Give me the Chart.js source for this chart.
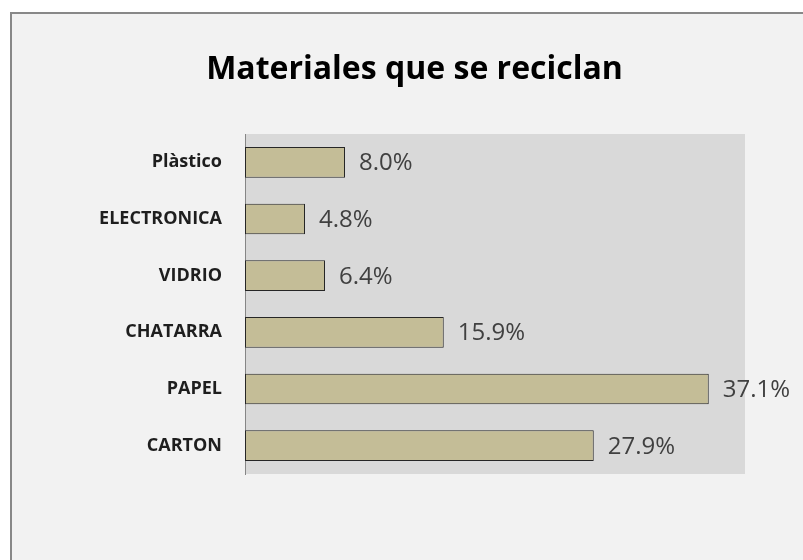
<!DOCTYPE html>
<html>
<head>
<meta charset="utf-8">
<script src="https://cdn.jsdelivr.net/npm/chart.js@4.4.1/dist/chart.umd.min.js"></script>
<style>
  html, body { margin: 0; padding: 0; background: #fff; }
  #frame {
    position: absolute; left: 10px; top: 12px; width: 900px; height: 700px;
    background: #f2f2f2; border-left: 2px solid #888; border-top: 2px solid #888;
  }
  #wrap { position: absolute; left: 0; top: 0; width: 803px; height: 560px; }
</style>
</head>
<body>
<div id="frame"></div>
<div id="wrap"><canvas id="materialsChart"></canvas></div>
<script>
// data, top to bottom
const categories = ['Plàstico', 'ELECTRONICA', 'VIDRIO', 'CHATARRA', 'PAPEL', 'CARTON'];
const percentages = [8.0, 4.8, 6.4, 15.9, 37.1, 27.9];
const titleText = 'Materiales que se reciclan';

// gray plot area behind the bars
const plotBackground = {
  id: 'plotBackground',
  beforeDraw(chart) {
    const { ctx, chartArea: a } = chart;
    ctx.save();
    ctx.fillStyle = '#d9d9d9';
    ctx.fillRect(a.left, a.top, a.right - a.left, a.bottom - a.top);
    ctx.restore();
  }
};

// value labels to the right of each bar
const valueLabels = {
  id: 'valueLabels',
  afterDatasetsDraw(chart) {
    const ctx = chart.ctx;
    const meta = chart.getDatasetMeta(0);
    ctx.save();
    ctx.font = '24px "Open Sans"';
    ctx.fillStyle = '#404040';
    ctx.textBaseline = 'middle';
    ctx.textAlign = 'left';
    meta.data.forEach((bar, i) => {
      ctx.fillText(percentages[i].toFixed(1) + '%', bar.x + 14, bar.y + 1);
    });
    ctx.restore();
  }
};

function createChart() {
  const ctx = document.getElementById('materialsChart').getContext('2d');
  new Chart(ctx, {
    type: 'bar',
    data: {
      labels: categories,
      datasets: [{
        data: percentages,
        backgroundColor: '#c4bd97',
        borderColor: '#262626',
        borderWidth: 1,
        borderSkipped: false,
        barPercentage: 0.54,
        categoryPercentage: 1
      }]
    },
    options: {
      indexAxis: 'y',
      responsive: true,
      maintainAspectRatio: false,
      animation: false,
      layout: { padding: { top: 0, left: 84, right: 58, bottom: 86 } },
      plugins: {
        legend: { display: false },
        tooltip: { enabled: false },
        title: {
          display: true,
          text: titleText,
          color: '#000',
          font: { family: 'Open Sans', size: 32, weight: 'bold', lineHeight: 1.2 },
          padding: { top: 51, bottom: 44.6 }
        }
      },
      scales: {
        x: { display: false, min: 0, max: 40 },
        y: {
          afterFit(scale) { scale.width = 161; },
          grid: { display: false },
          border: { display: true, color: '#868686', width: 1 },
          ticks: {
            color: '#1e1e1e',
            padding: 15,
            font: { family: 'Open Sans', size: 18, weight: 'bold' }
          }
        }
      }
    },
    plugins: [plotBackground, valueLabels]
  });
}

createChart();
</script>
</body>
</html>
